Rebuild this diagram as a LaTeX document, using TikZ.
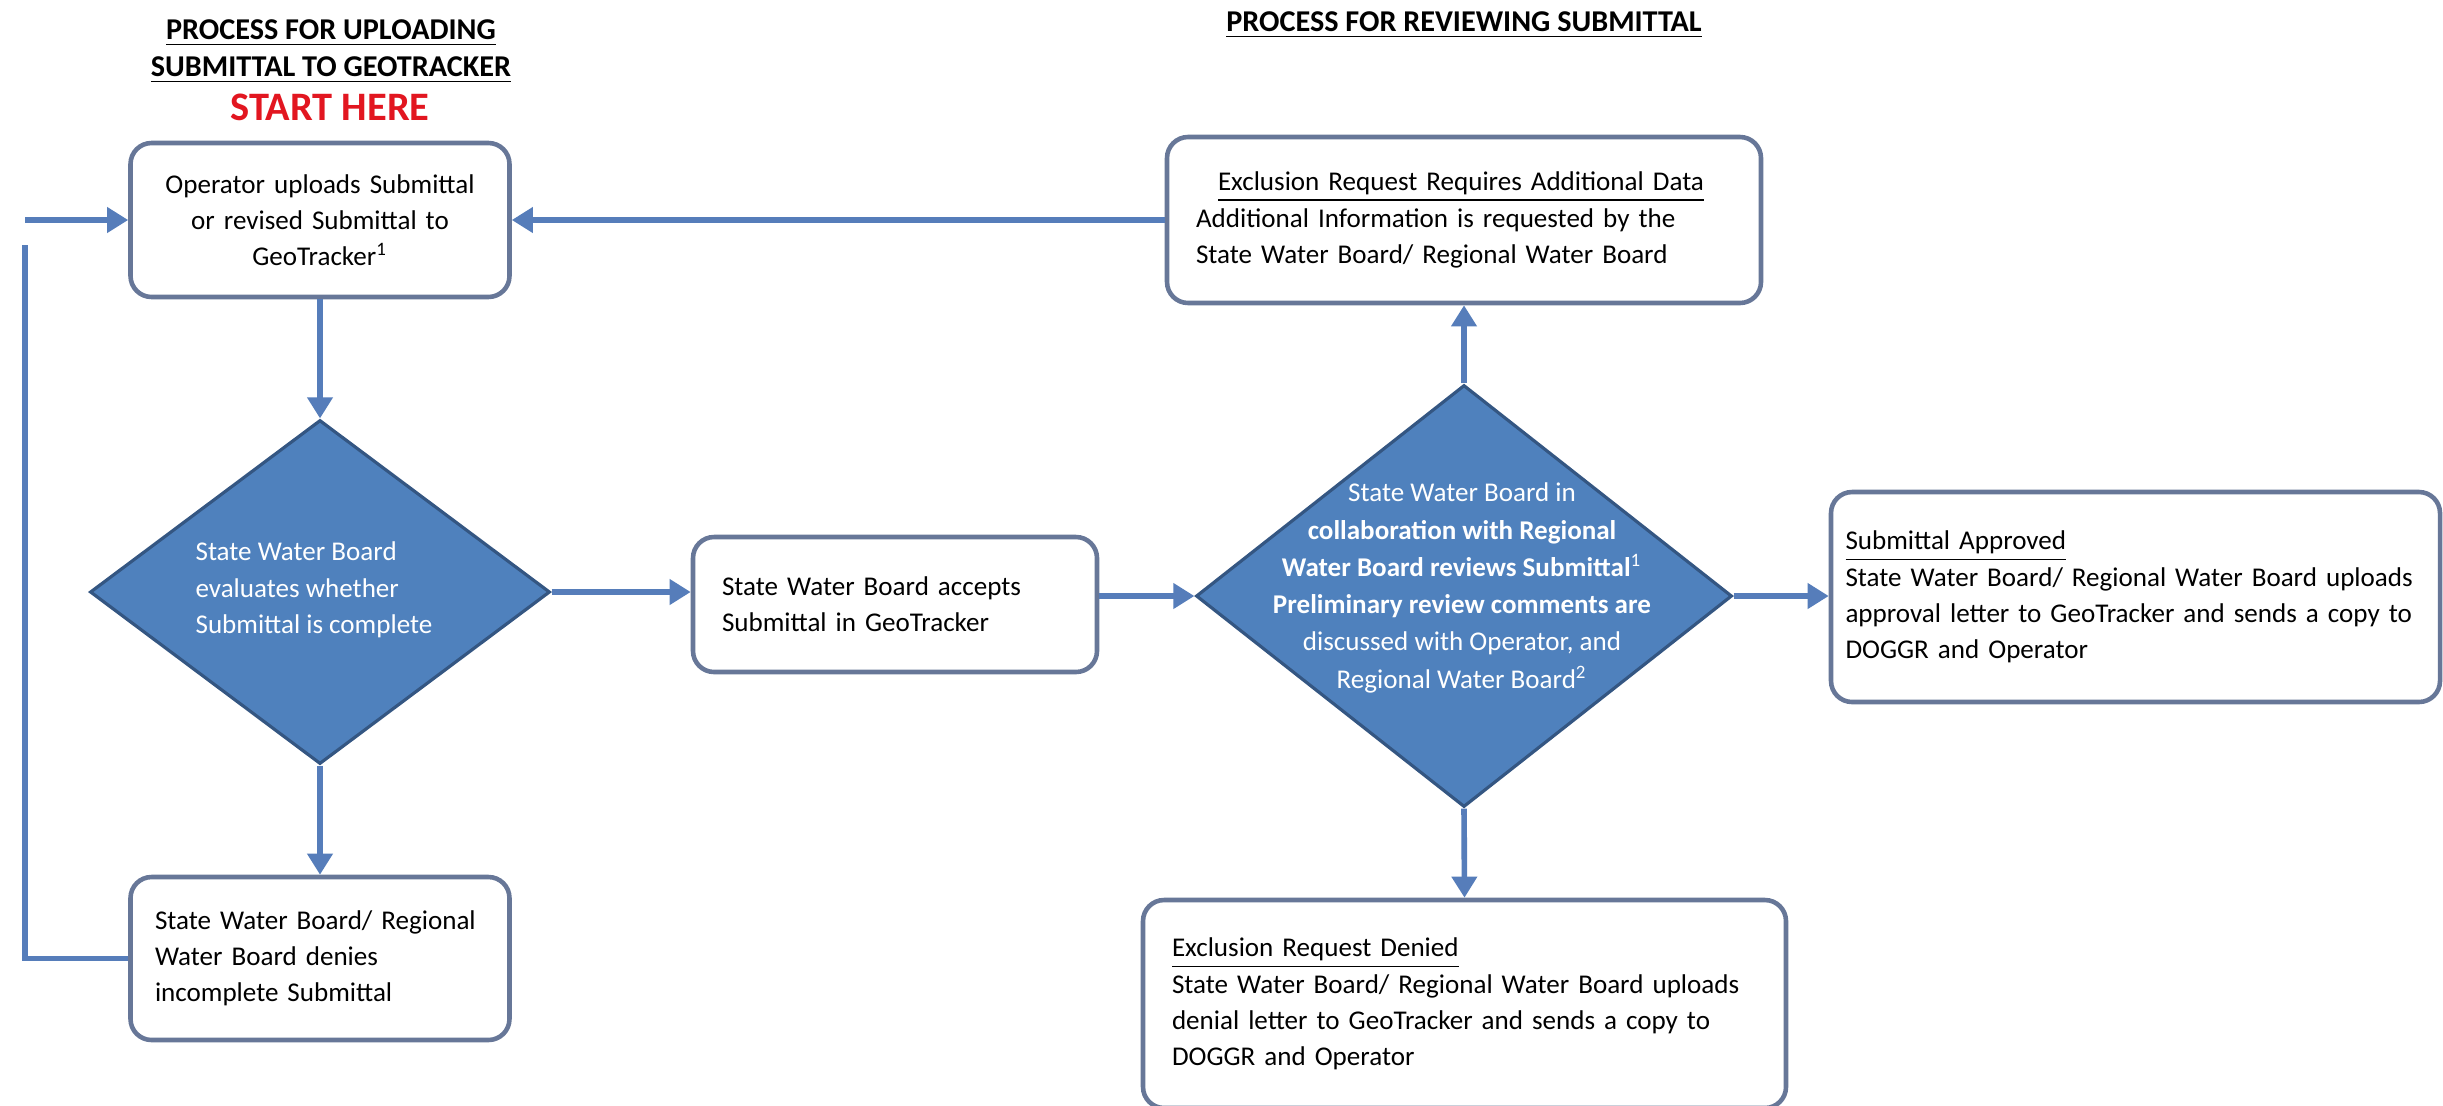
\documentclass[tikz,border=0pt]{standalone}
\usepackage{fontspec}
\setmainfont{Carlito}
\usetikzlibrary{shapes.geometric,arrows.meta}
\definecolor{linkblue}{RGB}{86,125,186}
\definecolor{boxedge}{RGB}{103,119,152}
\definecolor{dfill}{RGB}{79,129,189}
\definecolor{dedge}{RGB}{52,86,130}
\definecolor{startred}{RGB}{226,22,32}
\begin{document}
\begin{tikzpicture}[every node/.style={font=\fontsize{7.7}{10.3}\selectfont},
  stepbox/.style={draw=boxedge,line width=1.3pt,rounded corners=6pt,fill=white,inner sep=0pt},
  decide/.style={diamond,draw=dedge,line width=0.9pt,fill=dfill,inner sep=0pt},
  dtext/.style={text=white,align=center,font=\fontsize{7.7}{10.6}\selectfont},
  link/.style={draw=linkblue,line width=1.6pt},
  arr/.style={link,-{Triangle[length=6pt,width=7pt]}},
  head/.style={font=\fontsize{8.6}{10.5}\selectfont\bfseries,align=center}]
\path[use as bounding box,fill=white] (0,0) rectangle (24.43,-11.05);
\node[head] (ttl1) at (3.31,-0.515) {\underline{PROCESS FOR UPLOADING}\\ \underline{SUBMITTAL TO GEOTRACKER}};
\node[font=\fontsize{11.5}{13}\selectfont\bfseries,text=startred] (start) at (3.30,-1.07) {START HERE};
\node[head] (ttl2) at (14.64,-0.25) {\underline{PROCESS FOR REVIEWING SUBMITTAL}};
\node[stepbox,minimum width=3.79cm,minimum height=1.54cm,text width=3.3cm,align=center] (upl) at (3.20,-2.20)
  {Operator uploads Submittal\\ or revised Submittal to\\ GeoTracker\textsuperscript{1}};
\node[stepbox,minimum width=5.94cm,minimum height=1.66cm,text width=5.36cm,align=left] (req) at (14.64,-2.20)
  {\hspace*{0.22cm}\underline{Exclusion Request Requires Additional Data}\\ Additional Information is requested by the\\ State Water Board/ Regional Water Board};
\node[decide,minimum width=4.60cm,minimum height=3.44cm] (chk) at (3.20,-5.92) {};
\node[dtext,align=left,font=\fontsize{7.7}{10.4}\selectfont] (chkt) at (3.14,-5.90) {State Water Board\\ evaluates whether\\ Submittal is complete};
\node[stepbox,minimum width=4.04cm,minimum height=1.35cm,text width=3.46cm,align=left] (acc) at (8.95,-6.045)
  {State Water Board accepts\\ Submittal in GeoTracker};
\node[decide,minimum width=5.36cm,minimum height=4.22cm] (rev) at (14.64,-5.96) {};
\node[dtext] (revt) at (14.62,-5.88) {State Water Board in\\ \textbf{collaboration with Regional}\\
  \textbf{Water Board reviews Submittal}\textsuperscript{1}\\ \textbf{Preliminary review comments are}\\
  discussed with Operator, and\\ Regional Water Board\textsuperscript{2}};
\node[stepbox,minimum width=6.09cm,minimum height=2.10cm,text width=5.8cm,align=left] (apr) at (21.355,-5.97)
  {\underline{Submittal Approved}\\ State Water Board/ Regional Water Board uploads\\ approval letter to GeoTracker and sends a copy to\\ DOGGR and Operator};
\node[stepbox,minimum width=3.79cm,minimum height=1.63cm,text width=3.3cm,align=left] (den) at (3.20,-9.585)
  {State Water Board/ Regional\\ Water Board denies\\ incomplete Submittal};
\node[stepbox,minimum width=6.43cm,minimum height=2.08cm,text width=5.85cm,align=left] (rej) at (14.645,-10.04)
  {\underline{Exclusion Request Denied}\\ State Water Board/ Regional Water Board uploads\\ denial letter to GeoTracker and sends a copy to\\ DOGGR and Operator};
\coordinate (loopin) at (0.25,-2.20);
\coordinate (looptop) at (0.25,-2.45);
\draw[arr] (loopin) -- (upl.west);
\draw[link] (den.west) -| (looptop);
\draw[arr] (req.west) -- (upl.east);
\draw[arr] (upl.south) -- (chk.north);
\draw[arr] (chk.south) -- (den.north);
\draw[arr] (chk.east) -- (chk.east -| acc.west);
\draw[arr] (rev.west -| acc.east) -- (rev.west);
\draw[arr] (rev.east) -- (rev.east -| apr.west);
\draw[arr] (rev.north) -- (req.south);
\draw[arr] (rev.south) -- (rej.north);
\end{tikzpicture}
\end{document}
